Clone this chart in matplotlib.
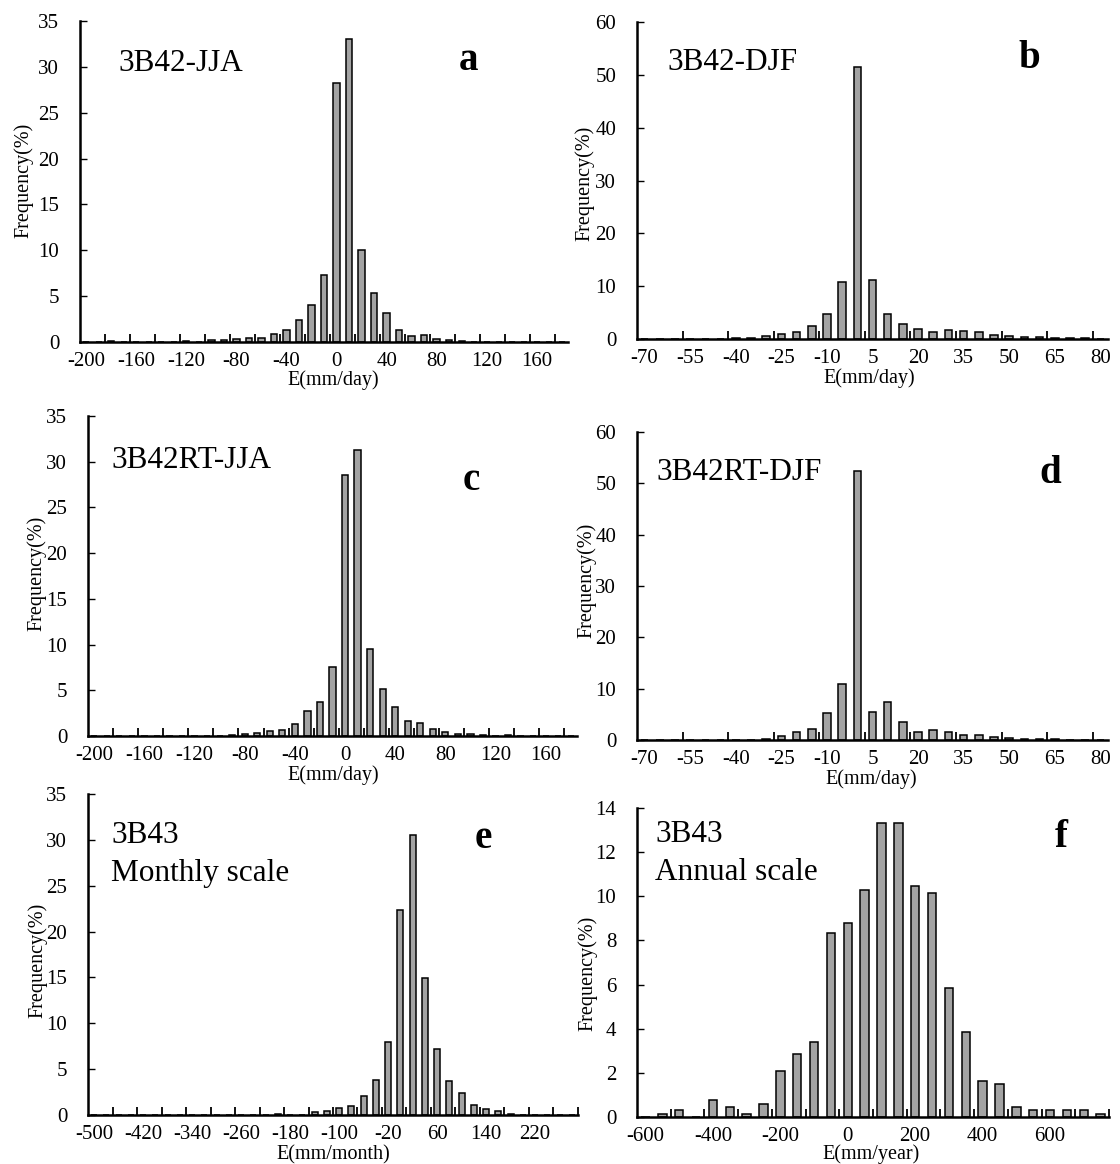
import matplotlib.pyplot as plt
import numpy as np

plt.rcParams["font.family"] = ["Liberation Serif", "DejaVu Serif"]

W, H = 1120, 1164

# bin centres of the error histograms
bins_daily_jja = [-200, -190, -180, -170, -160, -150, -140, -130, -120, -110,
                  -100, -90, -80, -70, -60, -50, -40, -30, -20, -10,
                  0, 10, 20, 30, 40, 50, 60, 70, 80, 90,
                  100, 110, 120, 130, 140, 150, 160, 170, 180]
bins_daily_djf = [-70, -65, -60, -55, -50, -45, -40, -35, -30, -25, -20,
                  -15, -10, -5, 0, 5, 10, 15, 20, 25, 30, 35, 40, 45, 50,
                  55, 60, 65, 70, 75, 80]
bins_monthly = [-500, -480, -460, -440, -420, -400, -380, -360, -340, -320,
                -300, -280, -260, -240, -220, -200, -180, -160, -140, -120,
                -100, -80, -60, -40, -20, 0, 20, 40, 60, 80,
                100, 120, 140, 160, 180, 200, 220, 240, 260, 280]
bins_annual = [-600, -550, -500, -450, -400, -350, -300, -250, -200, -150,
               -100, -50, 0, 50, 100, 150, 200, 250, 300, 350,
               400, 450, 500, 550, 600, 650, 700, 750]

# frequency (%) per bin
freq_3b42_jja = [0, 0, 0.1, 0, 0, 0, 0, 0, 0.1, 0,
                 0.2, 0.2, 0.3, 0.4, 0.4, 0.9, 1.3, 2.4, 4.0, 7.3,
                 28.2, 33.0, 10.0, 5.3, 3.2, 1.3, 0.7, 0.8, 0.35, 0.25,
                 0.15, 0, 0, 0, 0, 0, 0, 0, 0]
freq_3b42_djf = [0, 0, 0, 0, 0, 0, 0.25, 0.25, 0.55, 0.95, 1.4,
                 2.5, 4.7, 10.7, 51.4, 11.1, 4.7, 2.9, 1.8, 1.4, 1.7,
                 1.5, 1.25, 0.75, 0.55, 0.4, 0.3, 0.25, 0.2, 0.2, 0]
freq_3b42rt_jja = [0, 0, 0, 0, 0, 0, 0, 0, 0, 0,
                   0.05, 0.1, 0.25, 0.3, 0.6, 0.7, 1.3, 2.7, 3.7, 7.5,
                   28.6, 31.3, 9.5, 5.1, 3.2, 1.6, 1.4, 0.8, 0.4, 0.2,
                   0.2, 0.1, 0.05, 0.15, 0, 0, 0, 0, 0]
freq_3b42rt_djf = [0, 0, 0, 0, 0, 0, 0, 0, 0.25, 0.7, 1.55,
                   2.15, 5.2, 10.9, 52.5, 5.4, 7.5, 3.5, 1.55, 1.9, 1.55,
                   0.9, 1.0, 0.65, 0.45, 0.2, 0.15, 0.15, 0, 0, 0]
freq_3b43_month = [0, 0, 0, 0, 0, 0, 0, 0, 0, 0,
                   0, 0, 0, 0, 0, 0.1, 0, 0, 0.3, 0.4,
                   0.75, 1.0, 2.1, 3.8, 8.0, 22.4, 30.5, 14.9, 7.2, 3.75,
                   2.35, 1.1, 0.6, 0.4, 0.15, 0, 0, 0, 0, 0]
freq_3b43_year = [0, 0.15, 0.3, 0, 0.75, 0.45, 0.15, 0.6, 2.1, 2.85,
                  3.4, 8.35, 8.8, 10.3, 13.3, 13.3, 10.45, 10.15, 5.85, 3.85,
                  1.65, 1.5, 0.45, 0.3, 0.3, 0.3, 0.3, 0.15]

BAR_COLOR = "#a3a3a3"


def px_rect(left, top, right, bottom):
    return [left / W, 1 - bottom / H, (right - left) / W, (bottom - top) / H]


def fig_text(fig, x, y, s, **kw):
    fig.text(x / W, 1 - y / H, s, va="baseline", **kw)


def draw_hist(fig, rect, centers, freq, ymax, ystep, label_every, tick_every):
    ax = fig.add_axes(px_rect(*rect))
    centers = np.asarray(centers, dtype=float)
    step = centers[1] - centers[0]
    ax.bar(centers, freq, width=step * 0.5, color=BAR_COLOR,
           edgecolor="black", linewidth=1.1, zorder=2)

    lo, hi = centers[0] - step / 2, centers[-1] + step / 2
    ax.set_xlim(lo, hi)
    ax.set_ylim(0, ymax)

    # labels sit on categories, tick marks on the category boundaries
    ax.set_xticks(centers[::label_every])
    ax.set_xticklabels([f"{v:g}" for v in centers[::label_every]])
    ax.set_xticks(np.arange(lo + tick_every * step, hi + 1e-9,
                            tick_every * step), minor=True)
    ax.tick_params(axis="x", which="major", length=0, pad=7, labelsize=15)
    ax.tick_params(axis="x", which="minor", direction="in", length=6,
                   width=1.3)
    ax.set_yticks(np.arange(0, ymax + 1e-9, ystep))
    ax.tick_params(axis="y", direction="in", length=5, width=1.0,
                   pad=15, labelsize=15)

    for side in ("top", "right"):
        ax.spines[side].set_visible(False)
    for side in ("left", "bottom"):
        ax.spines[side].set_linewidth(1.8)
    return ax


fig = plt.figure(figsize=(W / 100, H / 100), dpi=100)

panels = [
    dict(rect=(80, 21, 568, 342), centers=bins_daily_jja, freq=freq_3b42_jja,
         ymax=35, ystep=5, label_every=4, tick_every=2,
         title=["3B42-JJA"], title_pos=(118, 71), letter="a",
         letter_pos=(469, 70), xlabel="E(mm/day)", xlabel_pos=(333, 385),
         ylabel_pos=(24, 180)),
    dict(rect=(637, 22, 1108, 339), centers=bins_daily_djf, freq=freq_3b42_djf,
         ymax=60, ystep=10, label_every=3, tick_every=3,
         title=["3B42-DJF"], title_pos=(667, 70), letter="b",
         letter_pos=(1029, 68), xlabel="E(mm/day)", xlabel_pos=(869, 383),
         ylabel_pos=(585, 183)),
    dict(rect=(88, 416, 577, 736), centers=bins_daily_jja, freq=freq_3b42rt_jja,
         ymax=35, ystep=5, label_every=4, tick_every=2,
         title=["3B42RT-JJA"], title_pos=(111, 468), letter="c",
         letter_pos=(471, 490), xlabel="E(mm/day)", xlabel_pos=(333, 780),
         ylabel_pos=(37, 573)),
    dict(rect=(637, 432, 1108, 740), centers=bins_daily_djf, freq=freq_3b42rt_djf,
         ymax=60, ystep=10, label_every=3, tick_every=3,
         title=["3B42RT-DJF"], title_pos=(656, 480), letter="d",
         letter_pos=(1050, 483), xlabel="E(mm/day)", xlabel_pos=(871, 784),
         ylabel_pos=(587, 580)),
    dict(rect=(88, 794, 578, 1115), centers=bins_monthly, freq=freq_3b43_month,
         ymax=35, ystep=5, label_every=4, tick_every=2,
         title=["3B43", "Monthly scale"], title_pos=(111, 843), letter="e",
         letter_pos=(483, 848), xlabel="E(mm/month)", xlabel_pos=(333, 1159),
         ylabel_pos=(38, 960)),
    dict(rect=(637, 808, 1109, 1117), centers=bins_annual, freq=freq_3b43_year,
         ymax=14, ystep=2, label_every=4, tick_every=2,
         title=["3B43", "Annual scale"], title_pos=(655, 842), letter="f",
         letter_pos=(1061, 847), xlabel="E(mm/year)", xlabel_pos=(871, 1159),
         ylabel_pos=(588, 973)),
]

for p in panels:
    draw_hist(fig, p["rect"], p["centers"], p["freq"], p["ymax"], p["ystep"],
              p["label_every"], p["tick_every"])
    tx, ty = p["title_pos"]
    for i, line in enumerate(p["title"]):
        fig_text(fig, tx, ty + i * 38, line, fontsize=22.5)
    lx, ly = p["letter_pos"]
    fig_text(fig, lx, ly, p["letter"], fontsize=28, fontweight="bold",
             ha="center")
    fig_text(fig, *p["xlabel_pos"], p["xlabel"], fontsize=14.5, ha="center")
    yx, yy = p["ylabel_pos"]
    fig.text(yx / W, 1 - yy / H, "Frequency(%)", fontsize=14.5, rotation=90,
             ha="center", va="center")

fig.savefig("out.png", dpi=100)
